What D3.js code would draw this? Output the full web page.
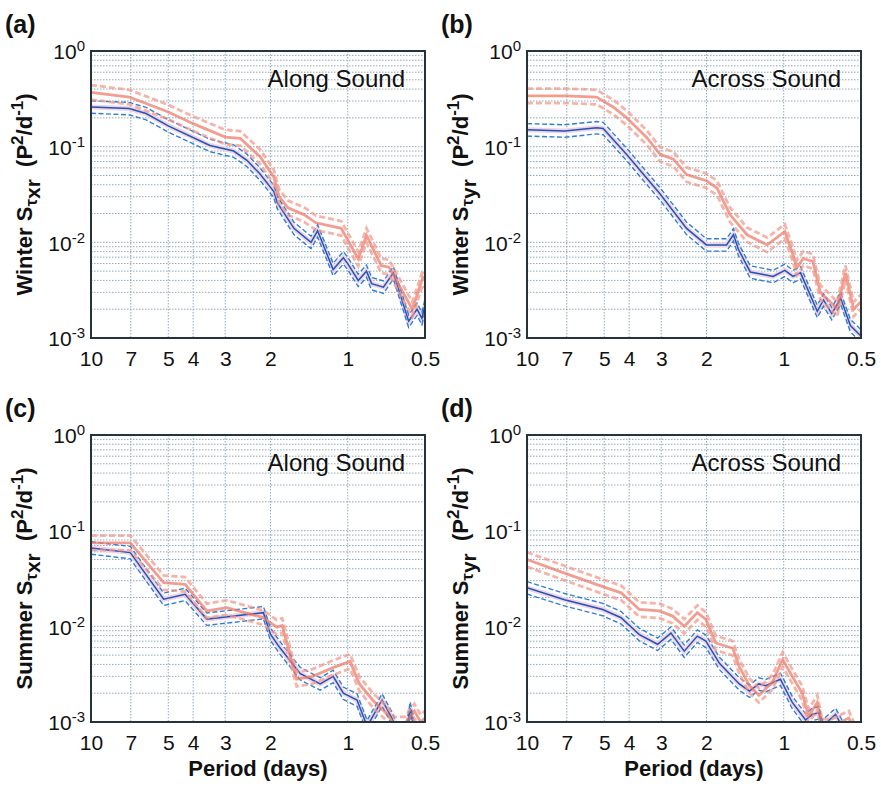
<!DOCTYPE html>
<html>
<head>
<meta charset="utf-8">
<script src="https://cdn.jsdelivr.net/npm/d3@7"></script>
<style>
  body { margin: 0; background: #fff; }
  svg { font-family: "Liberation Sans", Arial, Helvetica, sans-serif; }
</style>
</head>
<body>
<svg id="fig" width="881" height="787"></svg>
<script>
// ---------- data ----------
const periodTicks = [10, 7, 5, 4, 3, 2, 1, 0.5];
const gridPeriods = [7, 5, 4, 3, 2, 1];
const powerTicks = [1, 0.1, 0.01, 0.001];

// confidence bounds (dashed lines) as multiplicative offsets of the centre line
const blueBand = [0.86, 1.16];
const redBand = [0.84, 1.19];

// (a) winter, along sound
const aBlueP = [10, 7.1, 6.1, 5.0, 3.44, 2.78, 2.47, 2.2, 1.94, 1.88, 1.62, 1.39, 1.31, 1.14, 1.04, 1.0, 0.91, 0.845, 0.807, 0.726, 0.664, 0.579, 0.537, 0.514, 0.5];
const aBlueV = [0.26, 0.25, 0.222, 0.165, 0.103, 0.09, 0.072, 0.052, 0.034, 0.026, 0.014, 0.010, 0.0132, 0.0052, 0.0069, 0.006, 0.004, 0.005, 0.0037, 0.0034, 0.0048, 0.0015, 0.002, 0.0016, 0.0022];
const aRedP = [10, 7.1, 5.0, 4.0, 3.0, 2.62, 2.19, 1.94, 1.85, 1.71, 1.48, 1.33, 1.06, 0.91, 0.845, 0.74, 0.69, 0.56, 0.51, 0.5];
const aRedV = [0.37, 0.33, 0.23, 0.174, 0.126, 0.122, 0.078, 0.048, 0.030, 0.023, 0.0195, 0.016, 0.014, 0.0067, 0.0118, 0.0057, 0.0055, 0.002, 0.0043, 0.004];

// (b) winter, across sound
const bBlueP = [10, 7.13, 5.36, 5.05, 4.09, 3.03, 2.39, 2.0, 1.67, 1.57, 1.5, 1.35, 1.2, 1.1, 0.99, 0.92, 0.86, 0.74, 0.70, 0.65, 0.60, 0.55, 0.5];
const bBlueV = [0.15, 0.146, 0.158, 0.155, 0.083, 0.032, 0.014, 0.0094, 0.0094, 0.012, 0.0084, 0.0049, 0.0046, 0.0044, 0.0051, 0.0044, 0.0048, 0.0019, 0.0025, 0.0018, 0.0026, 0.00135, 0.00105];
const bRedP = [10, 7.1, 5.36, 4.62, 4.09, 3.42, 3.03, 2.69, 2.39, 2.0, 1.82, 1.62, 1.39, 1.16, 0.99, 0.92, 0.89, 0.84, 0.77, 0.72, 0.66, 0.62, 0.575, 0.534, 0.5];
const bRedV = [0.34, 0.34, 0.33, 0.26, 0.2, 0.125, 0.083, 0.074, 0.051, 0.044, 0.037, 0.0195, 0.012, 0.0094, 0.013, 0.0074, 0.0054, 0.0068, 0.0063, 0.003, 0.0024, 0.002, 0.0048, 0.002, 0.0024];

// (c) summer, along sound
const cBlueP = [10, 7.03, 5.21, 4.3, 3.54, 2.13, 2.0, 1.84, 1.53, 1.28, 1.14, 1.04, 0.92, 0.84, 0.735, 0.673, 0.64, 0.59, 0.571, 0.55, 0.5];
const cBlueV = [0.066, 0.059, 0.0192, 0.0216, 0.0119, 0.0139, 0.0083, 0.006, 0.0032, 0.0025, 0.003, 0.002, 0.0017, 0.0009, 0.0017, 0.0011, 0.0008, 0.0008, 0.0014, 0.0008, 0.0008];
const cRedP = [10, 7.03, 5.21, 4.3, 3.54, 2.96, 2.13, 1.89, 1.8, 1.58, 1.37, 1.14, 0.98, 0.90, 0.80, 0.70, 0.66, 0.6, 0.55, 0.52, 0.5];
const cRedV = [0.0746, 0.0746, 0.0286, 0.0275, 0.0145, 0.0157, 0.0123, 0.0098, 0.0102, 0.0028, 0.0030, 0.0037, 0.0043, 0.0025, 0.0017, 0.0012, 0.00095, 0.00095, 0.0013, 0.001, 0.0011];

// (d) summer, across sound
const dBlueP = [10, 7.14, 5.07, 4.30, 3.65, 3.10, 2.75, 2.44, 2.17, 2.01, 1.78, 1.49, 1.36, 1.25, 1.175, 1.03, 0.926, 0.822, 0.774, 0.73, 0.708, 0.628, 0.592, 0.55, 0.5];
const dBlueV = [0.0253, 0.019, 0.015, 0.0123, 0.0082, 0.0065, 0.0085, 0.0055, 0.0079, 0.0070, 0.0041, 0.0025, 0.0021, 0.0025, 0.0024, 0.0028, 0.0016, 0.00105, 0.0012, 0.00125, 0.0009, 0.0012, 0.0009, 0.0008, 0.0008];
const dRedP = [10, 7.14, 5.07, 4.30, 3.65, 3.05, 2.71, 2.44, 2.17, 2.01, 1.84, 1.58, 1.49, 1.36, 1.25, 1.107, 1.01, 0.926, 0.847, 0.80, 0.74, 0.708, 0.65, 0.558, 0.53, 0.5];
const dRedV = [0.05, 0.036, 0.026, 0.0224, 0.015, 0.0145, 0.0128, 0.0100, 0.0139, 0.0118, 0.0067, 0.0059, 0.0038, 0.0024, 0.0019, 0.0026, 0.0045, 0.003, 0.002, 0.00115, 0.0016, 0.0009, 0.0009, 0.0011, 0.0008, 0.0008];

const PANELS = [
  { id: "a", left: 91, top: 51, season: "Winter", sub: "xr", note: "Along Sound", blue: [aBlueP, aBlueV], red: [aRedP, aRedV], xlabel: false },
  { id: "b", left: 527, top: 51, season: "Winter", sub: "yr", note: "Across Sound", blue: [bBlueP, bBlueV], red: [bRedP, bRedV], xlabel: false },
  { id: "c", left: 91, top: 435, season: "Summer", sub: "xr", note: "Along Sound", blue: [cBlueP, cBlueV], red: [cRedP, cRedV], xlabel: true },
  { id: "d", left: 527, top: 435, season: "Summer", sub: "yr", note: "Across Sound", blue: [dBlueP, dBlueV], red: [dRedP, dRedV], xlabel: true },
];

const W = 334, H = 287;
const svg = d3.select("#fig");
const C = { frame: "#26343a", grid: "#8fa8bd", blue: "#1d56b8", blueDash: "#2f7fd6", halo: "#f2d3e4", red: "#ef7766", redDash: "#f39888" };

// soft edge for the red spectra, like the original print
svg.append("defs").append("filter").attr("id", "soft")
  .append("feGaussianBlur").attr("stdDeviation", 0.6);

function yTitle(sel, x, y, season, sub) {
  const t = sel.append("text").attr("transform", `translate(${x},${y}) rotate(-90)`)
    .attr("text-anchor", "middle").attr("font-weight", "bold").attr("font-size", 22).attr("fill", "#111");
  t.append("tspan").text(season + " S");
  t.append("tspan").attr("dy", 5).attr("font-size", 17).text("τ");
  t.append("tspan").attr("dy", 3).attr("font-size", 21).text(sub);
  t.append("tspan").attr("dy", -8).text("\u00a0\u00a0(P");
  t.append("tspan").attr("dy", -9).attr("font-size", 17).text("2");
  t.append("tspan").attr("dy", 9).text("/d");
  t.append("tspan").attr("dy", -9).attr("font-size", 17).text("-1");
  t.append("tspan").attr("dy", 9).text(")");
}

function drawPanel(p) {
  const g = svg.append("g").attr("transform", `translate(${p.left},${p.top})`);
  const x = d3.scaleLog().domain([10, 0.5]).range([0, W]);
  const y = d3.scaleLog().domain([1e-3, 1]).range([H, 0]);

  // grid
  g.append("g").selectAll("line").data(y.ticks()).join("line")
    .attr("x1", 0).attr("x2", W).attr("y1", d => y(d)).attr("y2", d => y(d))
    .attr("stroke", C.grid).attr("stroke-width", 1).attr("stroke-dasharray", "1.5 1.5");
  g.append("g").selectAll("line").data(gridPeriods).join("line")
    .attr("y1", 0).attr("y2", H).attr("x1", d => x(d)).attr("x2", d => x(d))
    .attr("stroke", C.grid).attr("stroke-width", 1).attr("stroke-dasharray", "1.5 1.5");

  // series
  const clipId = "clip-" + p.id;
  g.append("clipPath").attr("id", clipId).append("rect").attr("width", W).attr("height", H);
  const plot = g.append("g").attr("clip-path", `url(#${clipId})`);
  const line = d3.line().x(d => x(d[0])).y(d => y(d[1]));
  const pts = (s, k) => s[0].map((per, i) => [per, s[1][i] * k]);

  // blue
  plot.append("path").attr("d", line(pts(p.blue, 1))).attr("fill", "none")
    .attr("stroke", C.halo).attr("stroke-width", 5);
  blueBand.forEach(k => plot.append("path").attr("d", line(pts(p.blue, k))).attr("fill", "none")
    .attr("stroke", C.blueDash).attr("stroke-width", 1.4).attr("stroke-dasharray", "5 2.5"));
  plot.append("path").attr("d", line(pts(p.blue, 1))).attr("fill", "none")
    .attr("stroke", C.blue).attr("stroke-width", 1.5);

  // red (drawn light and translucent on top)
  const red = plot.append("g").attr("opacity", 0.72).attr("filter", "url(#soft)");
  redBand.forEach(k => red.append("path").attr("d", line(pts(p.red, k))).attr("fill", "none")
    .attr("stroke", C.redDash).attr("stroke-width", 2.8).attr("stroke-dasharray", "6 3"));
  red.append("path").attr("d", line(pts(p.red, 1))).attr("fill", "none")
    .attr("stroke", C.red).attr("stroke-width", 2.8);

  // frame
  g.append("rect").attr("width", W).attr("height", H).attr("fill", "none")
    .attr("stroke", C.frame).attr("stroke-width", 2);

  // axes
  const gy = g.append("g").call(d3.axisLeft(y).tickValues(powerTicks).tickSize(0).tickPadding(6).tickFormat(() => "10"));
  gy.select(".domain").remove();
  gy.attr("font-size", 21).attr("font-family", null);
  gy.selectAll(".tick text").attr("fill", "#111").attr("dy", "0.38em")
    .append("tspan").attr("dy", "-0.55em").attr("font-size", 15).text(d => Math.round(Math.log10(d)));

  const gx = g.append("g").attr("transform", `translate(0,${H})`)
    .call(d3.axisBottom(x).tickValues(periodTicks).tickSize(0).tickPadding(13).tickFormat(d => String(d)));
  gx.select(".domain").remove();
  gx.attr("font-size", 21).attr("font-family", null);
  gx.selectAll(".tick text").attr("fill", "#111");

  // texts
  g.append("text").attr("x", W - 20).attr("y", 36).attr("text-anchor", "end")
    .attr("font-size", 24).attr("fill", "#111").text(p.note);
  svg.append("text").attr("x", p.left - 86).attr("y", p.top - 18)
    .attr("font-size", 25).attr("font-weight", "bold").attr("fill", "#111").text(`(${p.id})`);
  yTitle(svg, p.left - 59, p.top + H / 2, p.season, p.sub);
  if (p.xlabel) {
    g.append("text").attr("x", W / 2).attr("y", H + 54).attr("text-anchor", "middle")
      .attr("font-size", 22).attr("font-weight", "bold").attr("fill", "#111").text("Period (days)");
  }
}

PANELS.forEach(drawPanel);
</script>
</body>
</html>
